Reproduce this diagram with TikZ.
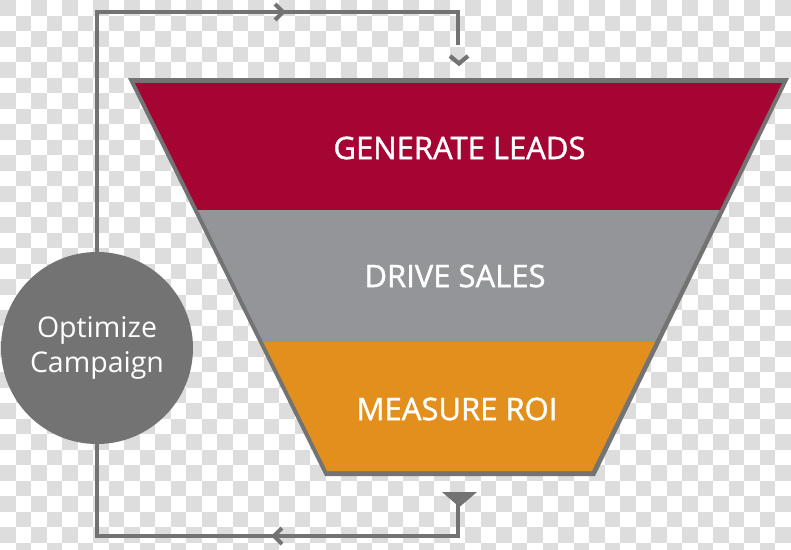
\documentclass[tikz,border=0pt]{standalone}
\usepackage{fontspec}
\setmainfont{Open Sans}
\newfontfamily\semibfont{Open Sans}[FakeBold=1.3]
\definecolor{linegray}{HTML}{737373}
\definecolor{checkgray}{HTML}{DDDDDD}
\definecolor{leadred}{HTML}{A50533}
\definecolor{salesgray}{HTML}{939598}
\definecolor{roiorange}{HTML}{E38F1D}
\definecolor{circlegray}{HTML}{737373}
\tikzset{
  loopline/.style={draw=linegray, line width=4.8pt},
  chevron/.style={draw=linegray, line width=4.2pt},
  bandtext/.style={text=white, font=\semibfont\fontsize{31}{36}\selectfont, inner sep=0pt},
}
\begin{document}
\begin{tikzpicture}[x=1pt,y=-1pt]
\useasboundingbox (0,0) rectangle (791,549);
% checkerboard background
\fill[white] (0,0) rectangle (791,549);
\foreach \i in {0,...,51}{
  \foreach \j in {0,...,35}{
    \pgfmathparse{int(mod(\i+\j,2))}
    \ifnum\pgfmathresult=0
      \fill[checkgray] (\i*15.5,\j*15.5) rectangle ++(15.5,15.5);
    \fi
  }
}
% funnel
\fill[linegray] (128,78) -- (789,78) -- (595,476) -- (325,476) -- cycle;
\fill[leadred] (135,83) -- (782,83) -- (719.8,210) -- (197.9,210) -- cycle;
\fill[salesgray] (197.9,210) -- (719.8,210) -- (655.1,342) -- (263.2,342) -- cycle;
\fill[roiorange] (263.2,342) -- (655.1,342) -- (591.9,471) -- (327.1,471) -- cycle;
\node[bandtext] (leads) at (459.5,148) {GENERATE LEADS};
\node[bandtext] (sales) at (455,276) {DRIVE SALES};
\node[bandtext] (roi) at (457,409) {MEASURE ROI};
% circle
\node[circle, fill=circlegray, minimum size=192pt, inner sep=0pt, text=white,
      align=center, font=\fontsize{28.5}{35}\selectfont] (opt) at (97,348) {Optimize\\Campaign};
% loop coordinates
\coordinate (tl) at (97,12);
\coordinate (tr) at (458,12);
\coordinate (topend) at (458,45);
\coordinate (bl) at (97,536);
\coordinate (br) at (458,536);
\coordinate (outlet) at (458,504);
% top loop
\draw[loopline] (opt.north) -- (tl) -- (tr) -- (topend);
\draw[chevron] (275,4) -- (283,12) -- (275,20);
\draw[chevron] (450,56) -- (459,63.5) -- (468,56);
% bottom outlet and loop
\fill[linegray] (442,492) -- (477,492) -- (459.5,507) -- cycle;
\draw[loopline] (outlet) -- (br) -- (bl) -- (opt.south);
\draw[chevron] (282,528) -- (274,536) -- (282,544);
\end{tikzpicture}
\end{document}
